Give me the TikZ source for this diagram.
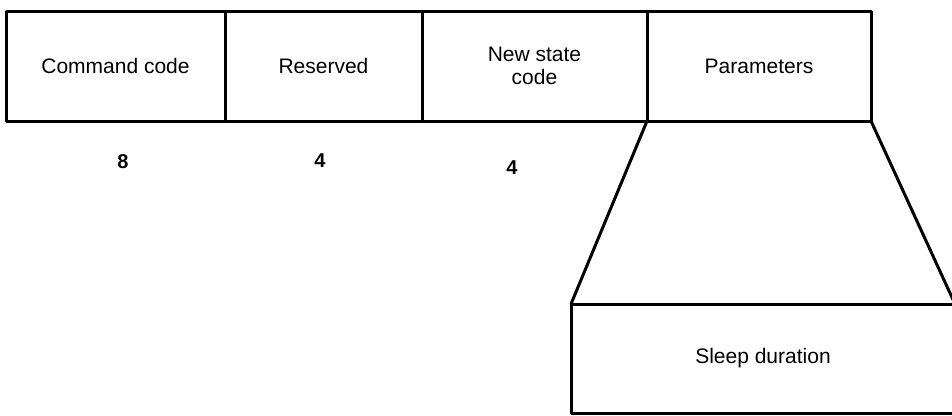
\documentclass[tikz,border=0pt]{standalone}
\usepackage{fontspec}
\setmainfont{Liberation Sans}
\begin{document}
\begin{tikzpicture}[x=1pt,y=-1pt,line join=round,font=\fontsize{21}{23}\selectfont,
	field/.style={draw,line width=3pt,minimum height=110pt,inner sep=0pt,outer sep=0pt,align=center},
	bits/.style={inner sep=0pt,font=\fontsize{20}{23}\selectfont\bfseries}]
			\clip (0,0) rectangle (952,415);
			\node[field,minimum width=219pt] (cmd) at (115.5,66) {Command code};
			\node[field,minimum width=197pt] (rsv) at (323.5,66) {Reserved};
			\node[field,minimum width=225pt] (nsc) at (534.5,66) {New state\\code};
			\node[field,minimum width=224pt] (par) at (759,66) {Parameters};
			\node[field,minimum width=384pt,minimum height=109pt] (sleep) at (763,358.5) {Sleep duration};
			\node[bits] (bcmd) at (123,162) {8};
			\node[bits] (brsv) at (320,161) {4};
			\node[bits] (bnsc) at (512,168) {4};
			\draw[line width=3pt] (par.south west) -- (sleep.north west);
			\draw[line width=3pt] (par.south east) -- (sleep.north east);
		\end{tikzpicture}
\end{document}
